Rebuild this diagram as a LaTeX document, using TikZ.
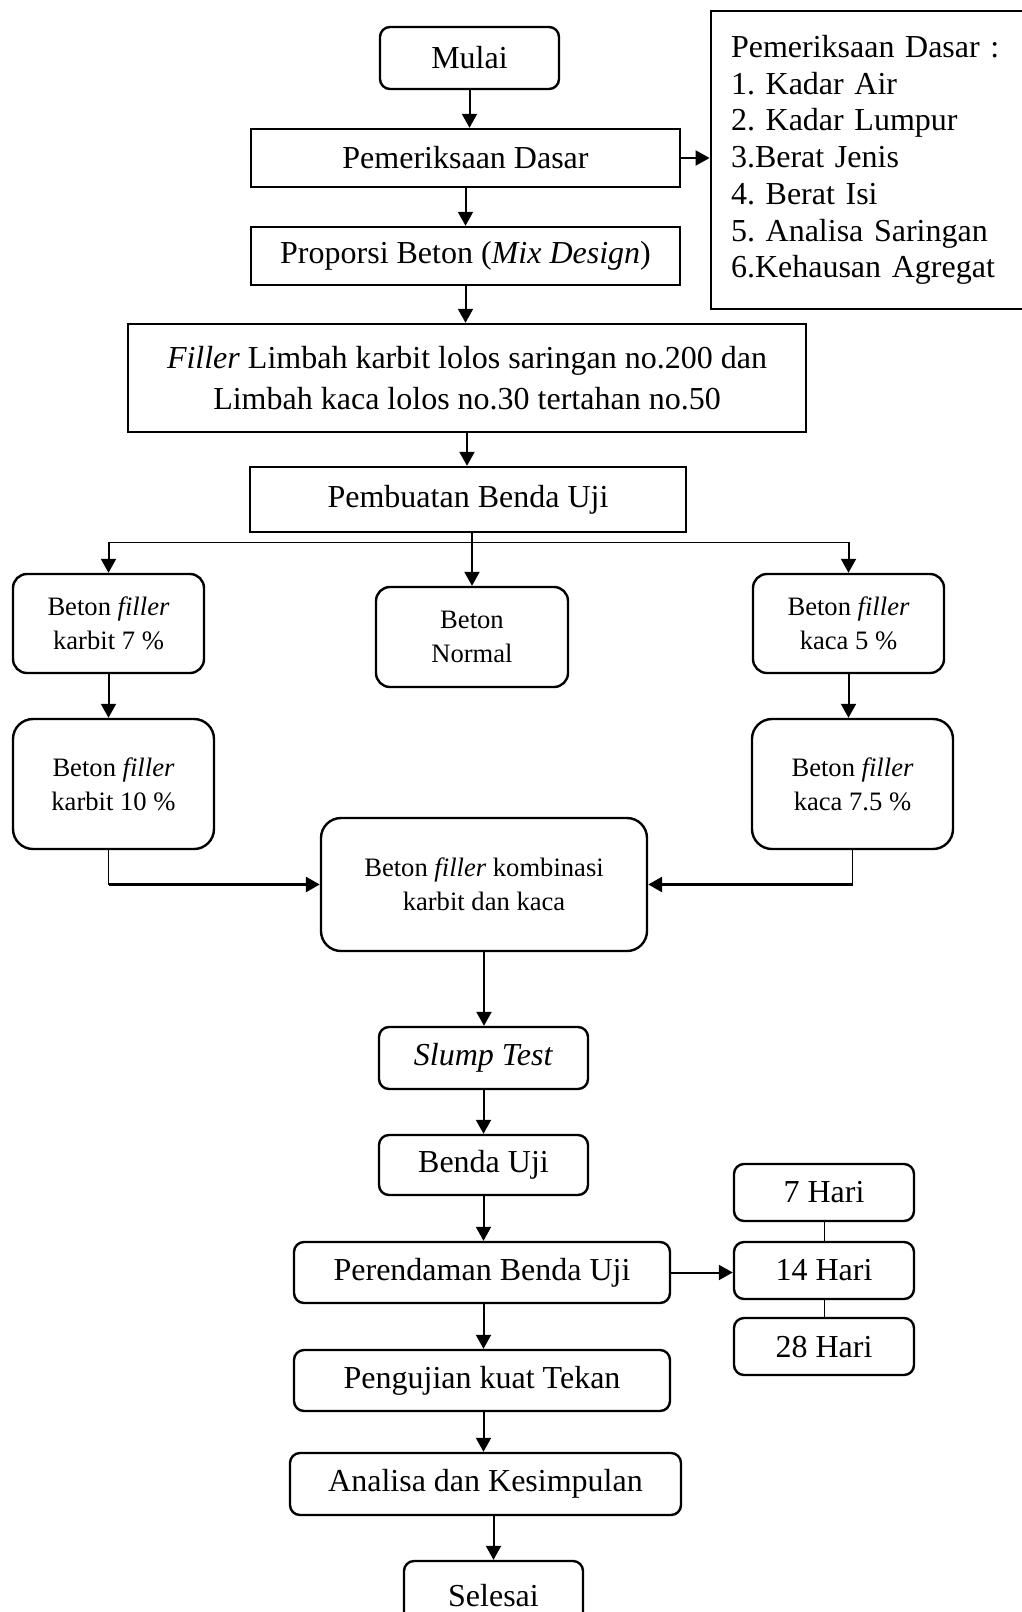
\documentclass[tikz,border=0pt]{standalone}
\usepackage{fontspec}
\setmainfont{Liberation Serif}
\usepackage{tikz}
\usepackage{xcolor}
\usetikzlibrary{arrows.meta}
\newcommand{\besar}{\fontsize{16}{18.35}\selectfont}
\newcommand{\kecil}{\fontsize{13.3}{17}\selectfont}
\frenchspacing

\begin{document}
\begin{tikzpicture}[x=0.5pt, y=-0.5pt,
  every node/.style={font=\besar, inner sep=0pt, align=center},
  kotak/.style={draw=black, line width=1.2pt, fill=white},
  bulat/.style={kotak, rounded corners=5pt},
  panah/.style={-{Triangle[length=7pt,width=7.5pt]}, line width=1pt},
  garis/.style={line width=0.5pt}]
\useasboundingbox (0,0) rectangle (1022,1612);
% Alur penelitian
\node[bulat, minimum width=89.5pt, minimum height=31pt] (mulai) at (469.5,58) {Mulai};
\node[kotak, minimum width=214.5pt, minimum height=29pt] (pemdasar) at (465.5,158) {Pemeriksaan Dasar};
\node[kotak, minimum width=214.5pt, minimum height=29pt] (proporsi) at (465.5,256) {Proporsi Beton (\textit{Mix Design})};
\node[kotak, line width=1.4pt, text width=139.5pt, inner xsep=10pt, minimum height=149pt, align=left] (daftar) at (870.5,160)
  {Pemeriksaan Dasar :\\ 1. Kadar Air\\ 2. Kadar Lumpur\\ 3.Berat Jenis\\ 4. Berat Isi\\ 5. Analisa Saringan\\ 6.Kehausan Agregat};
\node[kotak, minimum width=339pt, minimum height=54pt, font=\fontsize{16}{20.5}\selectfont] (filler) at (467,378)
  {\textit{Filler} Limbah karbit lolos saringan no.200 dan\\ Limbah kaca lolos no.30 tertahan no.50};
\node[kotak, minimum width=218pt, minimum height=32.5pt] (pembuatan) at (468,499.5) {Pembuatan Benda Uji};
\coordinate (cabang) at (472,542);
\node[bulat, rounded corners=7pt, minimum width=95.5pt, minimum height=49.5pt, font=\kecil] (karbit7) at (108.5,623.5) {Beton \textit{filler}\\ karbit 7 \%};
\node[bulat, rounded corners=7pt, minimum width=96pt, minimum height=50pt, font=\kecil] (normal) at (472,637) {Beton\\ Normal};
\node[bulat, rounded corners=7pt, minimum width=95.5pt, minimum height=49.5pt, font=\kecil] (kaca5) at (848.5,623.5) {Beton \textit{filler}\\ kaca 5 \%};
\node[bulat, rounded corners=10pt, minimum width=100.5pt, minimum height=65pt, font=\kecil] (karbit10) at (113.5,784) {Beton \textit{filler}\\ karbit 10 \%};
\node[bulat, rounded corners=10pt, minimum width=100.5pt, minimum height=65pt, font=\kecil] (kaca75) at (852.5,784) {Beton \textit{filler}\\ kaca 7.5 \%};
\node[bulat, rounded corners=10pt, minimum width=163pt, minimum height=66.5pt, font=\kecil] (kombinasi) at (484,884.5) {Beton \textit{filler} kombinasi\\ karbit dan kaca};
\node[bulat, minimum width=104.5pt, minimum height=31pt] (slump) at (483.5,1058) {\textit{Slump Test}};
\node[bulat, minimum width=104.5pt, minimum height=30pt] (benda) at (483.5,1165) {Benda Uji};
\node[bulat, minimum width=188pt, minimum height=30.5pt] (rendam) at (482,1272.5) {Perendaman Benda Uji};
\node[bulat, minimum width=90pt, minimum height=28.5pt] (hari7) at (824,1192.5) {7 Hari};
\node[bulat, minimum width=90pt, minimum height=28.5pt] (hari14) at (824,1270.5) {14 Hari};
\node[bulat, minimum width=90pt, minimum height=28.5pt] (hari28) at (824,1346.5) {28 Hari};
\node[bulat, minimum width=188pt, minimum height=30.5pt] (uji) at (482,1380.5) {Pengujian kuat Tekan};
\node[bulat, minimum width=195.5pt, minimum height=31pt] (analisa) at (485.5,1484) {Analisa dan Kesimpulan};
\node[bulat, minimum width=89.5pt, minimum height=35pt] (selesai) at (493.5,1596) {Selesai};
% panah
\draw[panah] (mulai.south) -- (mulai.south |- pemdasar.north);
\draw[panah] (pemdasar.east) -- (pemdasar.east -| daftar.west);
\draw[panah] (pemdasar.south) -- (proporsi.north);
\draw[panah] (proporsi.south) -- (proporsi.south |- filler.north);
\draw[panah] (filler.south) -- (filler.south |- pembuatan.north);
\draw[panah] (pembuatan.south -| normal.north) -- (normal.north);
\draw[garis] (karbit7.north |- cabang) -- (kaca5.north |- cabang);
\draw[panah] (karbit7.north |- cabang) -- (karbit7.north);
\draw[panah] (kaca5.north |- cabang) -- (kaca5.north);
\draw[panah] (karbit7.south) -- (karbit7.south |- karbit10.north);
\draw[panah] (kaca5.south) -- (kaca5.south |- kaca75.north);
\draw[garis] (karbit7.south |- karbit10.south) -- (karbit7.south |- kombinasi.west);
\draw[panah, line width=1.4pt] (karbit7.south |- kombinasi.west) -- (kombinasi.west);
\draw[garis] (kaca75.south) -- (kaca75.south |- kombinasi.east);
\draw[panah, line width=1.4pt] (kaca75.south |- kombinasi.east) -- (kombinasi.east);
\draw[panah] (kombinasi.south) -- (kombinasi.south |- slump.north);
\draw[panah] (slump.south) -- (slump.south |- benda.north);
\draw[panah] (benda.south) -- (benda.south |- rendam.north);
\draw[panah] (rendam.east) -- (rendam.east -| hari14.west);
\draw[garis] (hari7.south) -- (hari14.north);
\draw[garis] (hari14.south) -- (hari28.north);
\draw[panah] (benda.south |- rendam.south) -- (benda.south |- uji.north);
\draw[panah] (benda.south |- uji.south) -- (benda.south |- analisa.north);
\draw[panah] (analisa.south -| selesai.north) -- (selesai.north);
\end{tikzpicture}
\end{document}
